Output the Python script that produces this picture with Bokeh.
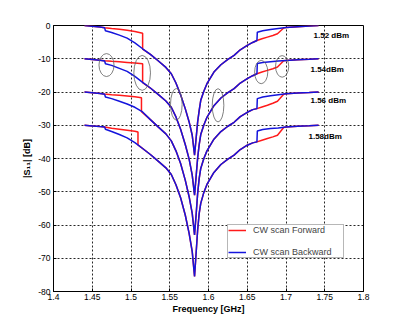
from bokeh.plotting import figure
from bokeh.models import Range1d, FixedTicker, Legend, LegendItem
from bokeh.core.properties import value
from bokeh.embed import file_html
from bokeh.resources import INLINE

# ---------------- data ----------------
x_ticks = [1.4, 1.45, 1.5, 1.55, 1.6, 1.65, 1.7, 1.75, 1.8]
x_tick_labels = ["1.4", "1.45", "1.5", "1.55", "1.6", "1.65", "1.7", "1.75", "1.8"]
y_ticks = [0, -10, -20, -30, -40, -50, -60, -70, -80]
y_tick_labels = ["0", "-10", "-20", "-30", "-40", "-50", "-60", "-70", "-80"]

# backward scan (blue) frequencies, GHz
freq_bwd = [1.440, 1.450, 1.460, 1.466, 1.467, 1.475, 1.485, 1.495, 1.505, 1.515,
            1.525, 1.535, 1.545, 1.552, 1.558, 1.564, 1.570, 1.575, 1.579, 1.582,
            1.584, 1.586, 1.588, 1.590, 1.594, 1.598, 1.607, 1.616, 1.625, 1.633,
            1.641, 1.650, 1.657, 1.6625, 1.663, 1.670, 1.680, 1.690, 1.700, 1.715,
            1.730, 1.742]

bwd_152 = [0.0, -0.2, -0.45, -0.7, -1.6, -2.1, -2.9, -3.8, -5.2, -7.0,
           -8.7, -10.6, -12.6, -14.5, -17.3, -20.8, -25.0, -29.0, -33.0, -39.0,
           -34.0, -29.0, -25.5, -22.5, -19.8, -17.5, -14.0, -11.8, -10.2, -9.0,
           -7.3, -6.0, -5.1, -4.5, -2.0, -1.6, -1.2, -0.9, -0.6, -0.35,
           -0.15, 0.0]
bwd_154 = [-10.0, -10.2, -10.45, -10.7, -11.5, -12.0, -12.9, -13.8, -15.3, -17.1,
           -18.8, -20.7, -22.7, -24.6, -27.5, -31.2, -35.8, -40.2, -45.0, -51.0,
           -45.5, -39.8, -35.8, -32.8, -29.9, -27.6, -24.1, -21.8, -20.2, -19.0,
           -17.3, -16.0, -15.1, -14.5, -11.4, -11.1, -10.9, -10.7, -10.5, -10.3,
           -10.15, -10.0]
bwd_156 = [-20.0, -20.2, -20.45, -20.7, -21.5, -22.0, -22.8, -23.6, -24.6, -26.0,
           -28.3, -30.5, -32.6, -34.7, -37.7, -41.5, -46.5, -51.5, -56.5, -63.0,
           -57.0, -50.5, -46.0, -43.0, -40.0, -37.7, -34.2, -31.9, -30.3, -29.1,
           -27.4, -26.1, -25.3, -25.0, -22.0, -21.5, -21.1, -20.8, -20.55, -20.3,
           -20.15, -20.0]
bwd_158 = [-30.0, -30.2, -30.4, -30.5, -31.2, -31.9, -32.8, -33.8, -35.2, -37.0,
           -38.8, -40.8, -42.8, -44.8, -47.9, -51.8, -57.0, -62.5, -68.0, -75.5,
           -68.5, -61.5, -56.5, -53.5, -50.2, -47.8, -44.2, -41.8, -40.2, -39.0,
           -37.3, -36.0, -35.3, -35.0, -31.7, -31.3, -31.0, -30.8, -30.55, -30.3,
           -30.15, -30.0]

# forward scan (red): left hysteresis branch, drop frequency, right branch
fwd_head_freq = [1.440, 1.450, 1.460, 1.466, 1.475, 1.485, 1.495, 1.505]
fwd_drop_freq = [1.515, 1.515, 1.5135, 1.509]
fwd_tail_freq = [1.669, 1.676, 1.683, 1.689, 1.697, 1.700, 1.715, 1.730, 1.742]

fwd_head_152 = [0.0, -0.2, -0.45, -0.7, -0.9, -1.1, -1.4, -1.8, -2.3, -7.1]
fwd_head_154 = [-10.0, -10.2, -10.45, -10.6, -10.75, -10.9, -11.1, -11.3, -11.5, -17.2]
fwd_head_156 = [-20.0, -20.2, -20.45, -20.6, -20.8, -21.0, -21.2, -21.45, -21.7, -25.9]
fwd_head_158 = [-30.0, -30.2, -30.4, -30.5, -30.9, -31.2, -31.5, -31.8, -32.0, -35.9]

fwd_tail_152 = [-4.0, -3.5, -3.0, -2.5, -0.75, -0.6, -0.35, -0.15, 0.0]
fwd_tail_154 = [-14.0, -13.5, -13.0, -12.5, -10.6, -10.5, -10.3, -10.15, -10.0]
fwd_tail_156 = [-24.5, -24.0, -23.4, -22.8, -20.7, -20.55, -20.3, -20.15, -20.0]
fwd_tail_158 = [-34.5, -34.0, -33.5, -33.0, -30.7, -30.55, -30.3, -30.15, -30.0]

power_labels = ["1.52 dBm", "1.54dBm", "1.56 dBm", "1.58dBm"]
power_label_x = [1.7355, 1.7316, 1.7316, 1.729]
power_label_y = [-3.0, -13.2, -22.7, -33.3]

# annotation ellipses
ell_x = [1.4684, 1.5144, 1.5585, 1.6123, 1.668, 1.695]
ell_y = [-11.9, -14.25, -23.7, -24.0, -14.0, -12.3]
ell_w = [0.0194, 0.0215, 0.015, 0.015, 0.017, 0.017]
ell_h = [6.9, 10.5, 9.5, 10.0, 7.0, 6.5]

# ---------------- figure ----------------
p = figure(width=394, height=319, frame_width=310, frame_height=266,
           x_range=Range1d(1.4, 1.8), y_range=Range1d(-80, 0),
           output_backend="svg", toolbar_location=None,
           min_border_left=53, min_border_top=25, min_border_right=31, min_border_bottom=28)
p.outline_line_color = "black"
p.outline_line_width = 1
p.background_fill_color = "white"
p.border_fill_color = "white"

p.xaxis.ticker = FixedTicker(ticks=x_ticks)
p.yaxis.ticker = FixedTicker(ticks=y_ticks)
p.xaxis.major_label_overrides = {t: l for t, l in zip(x_ticks, x_tick_labels)}
p.yaxis.major_label_overrides = {t: l for t, l in zip(y_ticks, y_tick_labels)}
for ax in (p.xaxis, p.yaxis):
    ax.major_tick_in = 3
    ax.major_tick_out = 0
    ax.minor_tick_line_color = None
    ax.axis_line_color = "black"
    ax.major_label_text_font = "Liberation Sans"
    ax.major_label_text_font_size = "8.5px"
    ax.major_label_text_color = "black"
    ax.axis_label_text_font = "Liberation Sans"
    ax.axis_label_text_font_size = "9px"
    ax.axis_label_text_font_style = "bold"
    ax.axis_label_text_color = "black"
p.xaxis.major_label_standoff = 2
p.yaxis.major_label_standoff = 3
p.xaxis.axis_label = "Frequency [GHz]"
p.yaxis.axis_label = "|S\u2081\u2081| [dB]"
p.xaxis.axis_label_standoff = 1
p.yaxis.axis_label_standoff = 3

for g in (p.xgrid, p.ygrid):
    g.grid_line_color = "black"
    g.grid_line_dash = "2 2"
    g.grid_line_alpha = 0.85
    g.grid_line_width = 1

red = "#ff1a1a"
blue = "#1414dc"

bwd_sets = [bwd_152, bwd_154, bwd_156, bwd_158]
fwd_heads = [fwd_head_152, fwd_head_154, fwd_head_156, fwd_head_158]
fwd_tails = [fwd_tail_152, fwd_tail_154, fwd_tail_156, fwd_tail_158]

red_renderers = []
for i in range(4):
    fx = fwd_head_freq + [fwd_drop_freq[i], fwd_drop_freq[i]] + freq_bwd[10:34] + fwd_tail_freq
    fy = fwd_heads[i] + bwd_sets[i][10:34] + fwd_tails[i]
    r = p.line(fx, fy, line_color=red, line_width=1.5)
    red_renderers.append(r)

blue_renderers = []
for i in range(4):
    r = p.line(freq_bwd, bwd_sets[i], line_color=blue, line_width=1.5)
    blue_renderers.append(r)

p.ellipse(x=ell_x, y=ell_y, width=ell_w, height=ell_h, fill_alpha=0,
          line_color="#606060", line_width=0.8)

p.text(x=power_label_x, y=power_label_y, text=power_labels,
       text_font=value("Liberation Sans"), text_font_style="bold",
       text_font_size="8px", text_baseline="middle", text_align="left",
       text_color="black")

legend = Legend(items=[LegendItem(label="CW scan Forward", renderers=[red_renderers[0]]),
                       LegendItem(label="CW scan Backward", renderers=[blue_renderers[0]])],
                location=(174, 33))
legend.label_text_font = "Liberation Sans"
legend.label_text_font_size = "9px"
legend.label_height = 10
legend.label_width = 90
legend.glyph_height = 10
legend.glyph_width = 18
legend.spacing = 12
legend.padding = 0
legend.margin = 0
legend.label_standoff = 7
legend.border_line_color = "#707070"
legend.border_line_width = 1
legend.background_fill_color = "white"
legend.background_fill_alpha = 1
p.add_layout(legend)

open("out.html", "w").write(file_html(p, INLINE))
